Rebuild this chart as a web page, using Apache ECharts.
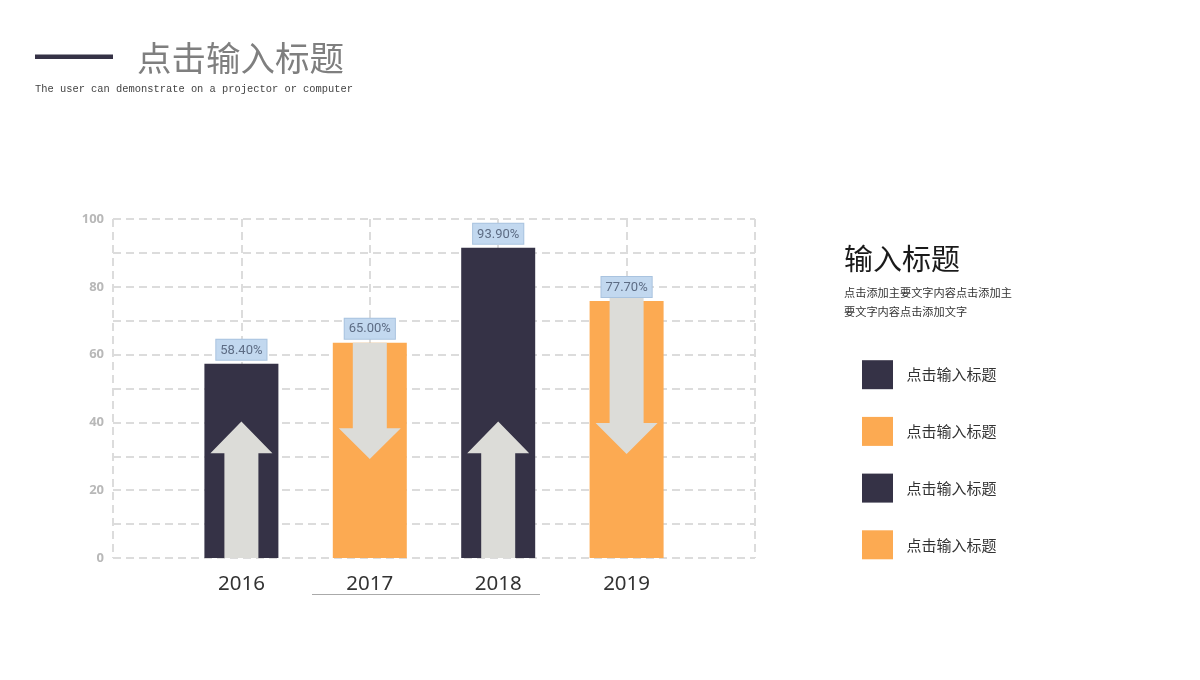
<!DOCTYPE html>
<html><head><meta charset="utf-8">
<script src="https://cdn.jsdelivr.net/npm/echarts@6/dist/echarts.min.js"></script>
<style>html,body{margin:0;padding:0;background:#fff}#c{width:1200px;height:680px}</style>
</head><body><div id="c"></div>
<script>
const years = ['2016', '2017', '2018', '2019'];
const barValues = [57.3, 63.5, 91.5, 75.8];
const barLabels = ['58.40%', '65.00%', '93.90%', '77.70%'];
const barColors = ['#353246', '#fcaa52', '#353246', '#fcaa52'];
const arrowStart = [0, 63.5, 0, 76.7];
const arrowHeadBase = [30.9, 38.3, 30.9, 39.8];
const arrowTip = [40.3, 29.2, 40.3, 30.7];
const yTickLabels = [0, 20, 40, 60, 80, 100];
const legendNames = ['点击输入标题', '点击输入标题', '点击输入标题', '点击输入标题'];
const legendColors = ['#353246', '#fcaa52', '#353246', '#fcaa52'];
const titleText = '点击输入标题';
const subtitleText = 'The user can demonstrate on a projector or computer';
const sideTitle = '输入标题';
const sideDesc = ['点击添加主要文字内容点击添加主', '要文字内容点击添加文字'];

const axisCats = [''].concat(years, ['']);
const barData = ['-'].concat(barValues, ['-']);
const arrowData = years.map((y, i) => [i + 1, arrowStart[i], arrowHeadBase[i], arrowTip[i]]);

const gridLine = { show: true, interval: 0, lineStyle: { color: '#dcdcdc', width: 2, type: [8, 5] } };
const CJK = '"Noto Sans CJK SC", "Noto Sans", sans-serif';

const graphics = [
  { type: 'rect', shape: { x: 35, y: 54.5, width: 78, height: 4.5 }, style: { fill: '#353246' } },
  { type: 'text', x: 137, y: 58, style: { text: titleText, fontSize: 34.5, fontFamily: CJK, fill: '#7f7f7f', verticalAlign: 'middle' } },
  { type: 'text', x: 35, y: 89, style: { text: subtitleText, fontSize: 10.4, fontFamily: '"Liberation Mono", monospace', fill: '#444', verticalAlign: 'middle' } },
  { type: 'text', x: 844, y: 259, style: { text: sideTitle, fontSize: 29, fontFamily: CJK, fill: '#1a1a1a', verticalAlign: 'middle' } },
  { type: 'line', shape: { x1: 312, y1: 594.5, x2: 540, y2: 594.5 }, style: { stroke: '#aaaaaa', lineWidth: 1 } }
];
sideDesc.forEach((t, i) => {
  graphics.push({ type: 'text', x: 844, y: 292.5 + i * 19.5, style: { text: t, fontSize: 11.2, fontFamily: CJK, fill: '#333', verticalAlign: 'middle' } });
});
legendNames.forEach((n, i) => {
  const cy = 374.7 + i * 56.7;
  graphics.push({ type: 'rect', shape: { x: 862, y: cy - 14.5, width: 31, height: 29 }, style: { fill: legendColors[i] } });
  graphics.push({ type: 'text', x: 906.5, y: cy, style: { text: n, fontSize: 15, fontFamily: CJK, fill: '#333', verticalAlign: 'middle' } });
});

const chart = echarts.init(document.getElementById('c'), null, { renderer: 'canvas' });
chart.setOption({
  animation: false,
  backgroundColor: '#fff',
  grid: { left: 113, right: 445, top: 219, bottom: 122 },
  xAxis: {
    type: 'category', data: axisCats, boundaryGap: false,
    axisLine: { show: false }, axisTick: { show: false },
    axisLabel: { interval: 0, fontSize: 20.5, color: '#333', margin: 16, fontFamily: '"Noto Sans", sans-serif' },
    splitLine: gridLine
  },
  yAxis: {
    type: 'value', min: 0, max: 100, interval: 10,
    axisLine: { show: false }, axisTick: { show: false },
    axisLabel: {
      margin: 9, fontSize: 13, fontWeight: 'bold', color: '#b8b8b8', fontFamily: '"Open Sans", sans-serif',
      formatter: v => (yTickLabels.indexOf(v) >= 0 ? String(v) : '')
    },
    splitLine: gridLine
  },
  series: [
    {
      type: 'bar', data: barData, barWidth: 74, z: 2,
      itemStyle: { color: p => barColors[p.dataIndex - 1] || '#000' },
      label: {
        show: true, position: 'top', distance: 4,
        formatter: p => barLabels[p.dataIndex - 1],
        fontSize: 13, color: '#5d6c84', fontFamily: 'Roboto, sans-serif',
        backgroundColor: '#c2d8ef', borderColor: '#a9c3df', borderWidth: 1,
        padding: [4, 4, 3, 4]
      }
    },
    {
      type: 'custom', data: arrowData, z: 3, silent: true,
      encode: { x: 0, y: [1, 2, 3] },
      renderItem: (params, api) => {
        const c = api.value(0);
        const x = api.coord([c, 0])[0];
        const y0 = api.coord([c, api.value(1)])[1];
        const yb = api.coord([c, api.value(2)])[1];
        const yt = api.coord([c, api.value(3)])[1];
        const sw = 17, hw = 31;
        return {
          type: 'polygon',
          shape: { points: [[x - sw, y0], [x - sw, yb], [x - hw, yb], [x, yt], [x + hw, yb], [x + sw, yb], [x + sw, y0]] },
          style: { fill: '#dcdcd8' }
        };
      }
    }
  ],
  graphic: graphics
});
</script></body></html>
